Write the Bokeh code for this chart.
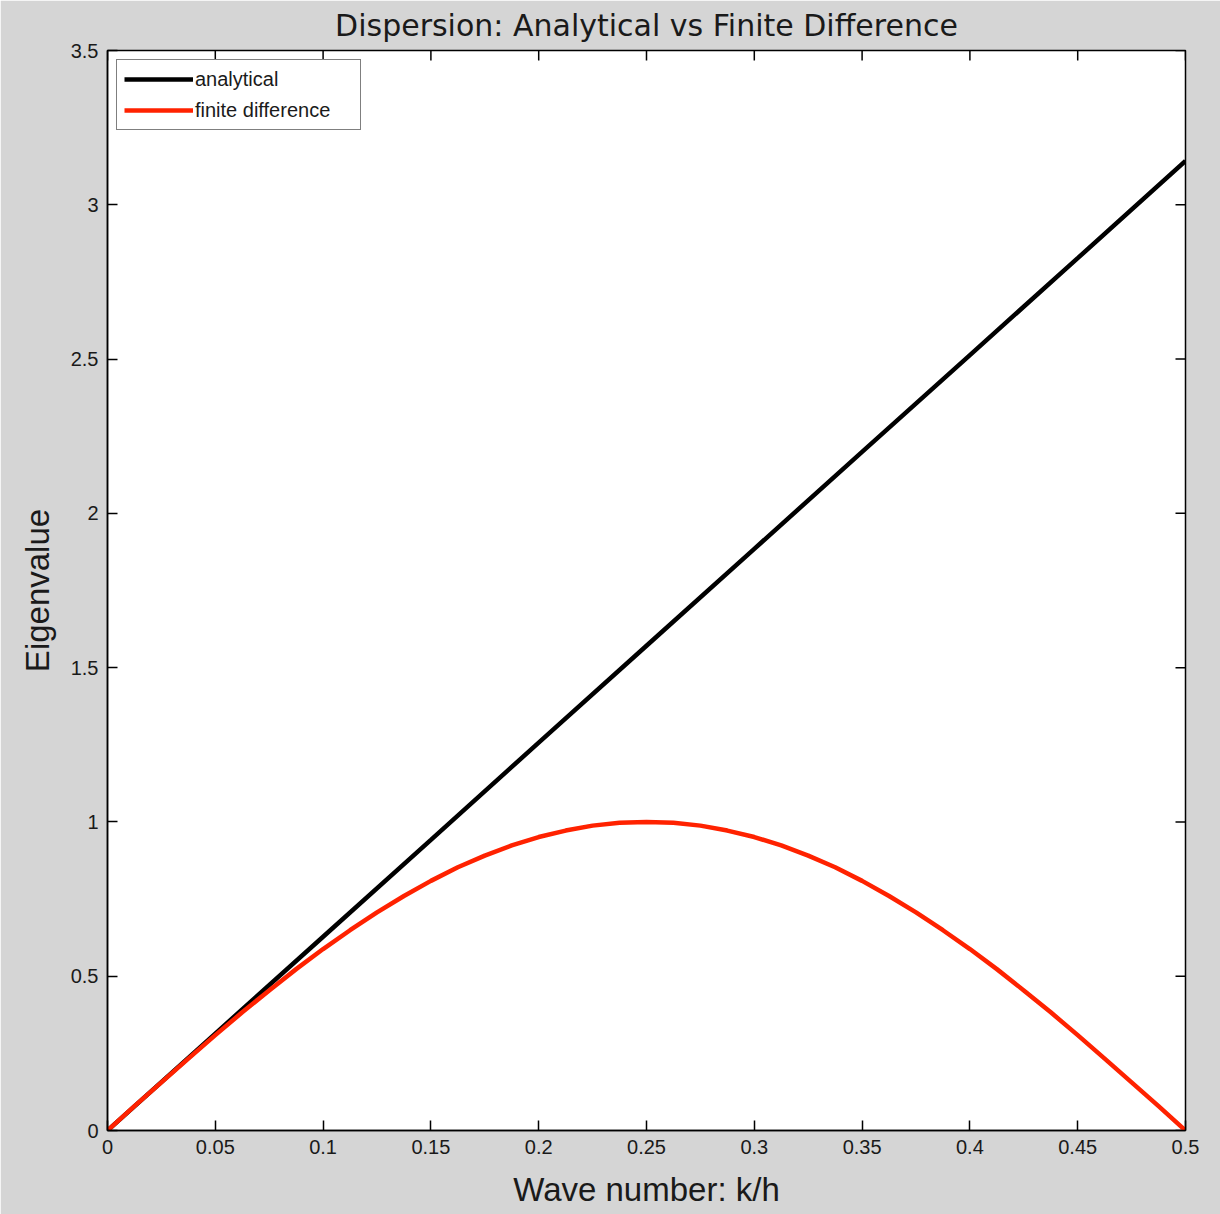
import math
from bokeh.plotting import figure
from bokeh.models import Range1d, FixedTicker, Legend, LegendItem
from bokeh.embed import file_html
from bokeh.resources import INLINE

# ---- data ----
k_analytical = [0.0, 0.05, 0.1, 0.15, 0.2, 0.25, 0.3, 0.35, 0.4, 0.45, 0.5]
eig_analytical = [0.0, 0.314, 0.628, 0.942, 1.257, 1.571, 1.885, 2.199, 2.513, 2.827, 3.142]

k_fd = [0.0, 0.0125, 0.025, 0.0375, 0.05, 0.0625, 0.075, 0.0875, 0.1, 0.1125,
        0.125, 0.1375, 0.15, 0.1625, 0.175, 0.1875, 0.2, 0.2125, 0.225, 0.2375,
        0.25, 0.2625, 0.275, 0.2875, 0.3, 0.3125, 0.325, 0.3375, 0.35, 0.3625,
        0.375, 0.3875, 0.4, 0.4125, 0.425, 0.4375, 0.45, 0.4625, 0.475, 0.4875, 0.5]
eig_fd = [0.0, 0.079, 0.156, 0.233, 0.309, 0.383, 0.454, 0.523, 0.588, 0.649,
          0.707, 0.760, 0.809, 0.853, 0.891, 0.924, 0.951, 0.972, 0.988, 0.997,
          1.0, 0.997, 0.988, 0.972, 0.951, 0.924, 0.891, 0.853, 0.809, 0.760,
          0.707, 0.649, 0.588, 0.523, 0.454, 0.383, 0.309, 0.233, 0.156, 0.079, 0.0]

x_ticks = [0, 0.05, 0.1, 0.15, 0.2, 0.25, 0.3, 0.35, 0.4, 0.45, 0.5]
x_tick_labels = ["0", "0.05", "0.1", "0.15", "0.2", "0.25", "0.3", "0.35", "0.4", "0.45", "0.5"]
y_ticks = [0, 0.5, 1, 1.5, 2, 2.5, 3, 3.5]
y_tick_labels = ["0", "0.5", "1", "1.5", "2", "2.5", "3", "3.5"]
x_limits = [0, 0.5]
y_limits = [0, 3.5]

title_text = "Dispersion: Analytical vs Finite Difference"
x_label = "Wave number: k/h"
y_label = "Eigenvalue"
series_names = ["analytical", "finite difference"]
series_colors = ["#000000", "#ff2200"]

BG = "#d5d5d5"
FONT = "Liberation Sans"
TXT = "#1a1a1a"

p = figure(width=1220, height=1214, output_backend="svg", toolbar_location=None,
           x_range=Range1d(*x_limits), y_range=Range1d(*y_limits),
           min_border_left=107, min_border_right=35, min_border_top=50, min_border_bottom=84)
p.background_fill_color = "white"
p.border_fill_color = BG
p.outline_line_color = "black"
p.outline_line_width = 1.5
p.grid.visible = False

p.title.text = title_text
p.title.align = "center"
p.title.vertical_align = "top"
p.title.text_font = "DejaVu Sans"
p.title.text_font_size = "30px"
p.title.text_font_style = "normal"
p.title.text_color = TXT
p.title.standoff = 12

def style_axis(ax, ticks, labels):
    ax.ticker = FixedTicker(ticks=ticks)
    ax.major_label_overrides = {t: l for t, l in zip(ticks, labels)}
    ax.major_tick_in = 10
    ax.major_tick_out = 0
    ax.minor_tick_line_color = None
    ax.axis_line_color = "black"
    ax.axis_line_width = 1.5
    ax.major_tick_line_color = "black"
    ax.major_tick_line_width = 1.5
    ax.major_label_text_font = FONT
    ax.major_label_text_color = TXT
    ax.major_label_text_font_size = "20px"
    ax.axis_label_text_font = FONT
    ax.axis_label_text_font_size = "33px"
    ax.axis_label_text_font_style = "normal"
    ax.axis_label_text_color = TXT

xa = p.xaxis[0]
ya = p.yaxis[0]
style_axis(xa, x_ticks, x_tick_labels)
style_axis(ya, y_ticks, y_tick_labels)
xa.axis_label = x_label
ya.axis_label = y_label
xa.major_label_standoff = 9
ya.major_label_standoff = 9
xa.axis_label_standoff = 14
ya.axis_label_standoff = 12

# mirrored inward ticks on the top and right edges of the box
p.ray(x=x_ticks, y=[y_limits[1]] * len(x_ticks), length=10, length_units="screen",
      angle=-math.pi / 2, line_color="black", line_width=1.5)
p.ray(x=[x_limits[1]] * len(y_ticks), y=y_ticks, length=10, length_units="screen",
      angle=math.pi, line_color="black", line_width=1.5)

r1 = p.line(k_analytical, eig_analytical, line_color=series_colors[0], line_width=4.5)
r2 = p.line(k_fd, eig_fd, line_color=series_colors[1], line_width=4.5)

legend = Legend(items=[LegendItem(label=series_names[0], renderers=[r1]),
                       LegendItem(label=series_names[1], renderers=[r2])],
                location="top_left")
legend.margin = 9
legend.padding = 7
legend.spacing = 7
legend.glyph_width = 69
legend.glyph_height = 24
legend.label_height = 24
legend.label_width = 158
legend.label_standoff = 2
legend.label_text_font = FONT
legend.label_text_font_size = "20px"
legend.label_text_color = TXT
legend.border_line_color = "black"
legend.border_line_width = 1.5
legend.background_fill_color = "white"
legend.background_fill_alpha = 1
p.add_layout(legend)

open("out.html", "w").write(file_html(p, INLINE))
